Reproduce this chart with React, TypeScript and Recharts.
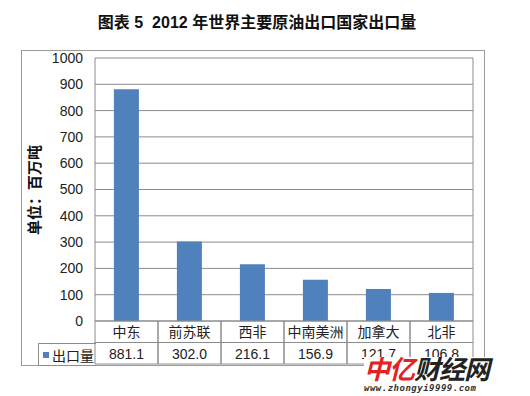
import React from 'react';
import { BarChart, Bar, XAxis, YAxis, CartesianGrid } from 'recharts';

const categories = ['中东', '前苏联', '西非', '中南美洲', '加拿大', '北非'];
const exportValues = [881.1, 302.0, 216.1, 156.9, 121.7, 106.8];
const valueLabels = ['881.1', '302.0', '216.1', '156.9', '121.7', '106.8'];
const yTicks = [0, 100, 200, 300, 400, 500, 600, 700, 800, 900, 1000];

const data = categories.map((name, i) => ({ name, value: exportValues[i], label: valueLabels[i] }));

const FONT = '"Liberation Sans", Arial, "Noto Sans CJK SC", sans-serif';
const BLUE = '#4f81bd';
const LINE = '#8c8c8c';

// each category gets a two-row table cell under the axis
const TableTick = (props: any) => {
  const { x, y, payload, index } = props;
  const w = 63;
  const left = x - w / 2;
  const top = y;
  const row = 21.5;
  return (
    <g>
      <line x1={left + w} y1={top} x2={left + w} y2={top + row * 2} stroke={LINE} />
      <line x1={left} y1={top + row} x2={left + w} y2={top + row} stroke={LINE} />
      <line x1={left} y1={top + row * 2} x2={left + w} y2={top + row * 2} stroke={LINE} />
      <line x1={left} y1={top} x2={left} y2={top + row * 2} stroke={LINE} />
      <text x={x} y={top + 16} textAnchor="middle" fontSize={14} fill="#222" fontFamily={FONT}>
        {payload.value}
      </text>
      <text x={x} y={top + row + 16} textAnchor="middle" fontSize={14} fill="#222" fontFamily={FONT}>
        {data[index]?.label}
      </text>
    </g>
  );
};

export default function App() {
  return (
    <div style={{ position: 'absolute', left: 0, top: 0, width: 530, height: 396, background: '#fff', fontFamily: FONT }}>
      <div style={{ position: 'absolute', left: 0, top: 9, width: 514, textAlign: 'center', fontSize: 16, fontWeight: 'bold', color: '#111' }}>
        图表 5&nbsp; 2012 年世界主要原油出口国家出口量
      </div>
      <div style={{ position: 'absolute', left: 21, top: 50, width: 464, height: 316, border: '1px solid #9a9a9a', boxSizing: 'border-box' }} />
      <BarChart width={530} height={396} data={data} margin={{ top: 58, right: 0, bottom: 31, left: 0 }} barCategoryGap="30%" style={{ position: 'absolute', left: 0, top: 0 }}>
        <CartesianGrid vertical={false} stroke={LINE} />
        <XAxis dataKey="name" height={44} tickLine={false} tickSize={0} tickMargin={0} axisLine={{ stroke: LINE }} interval={0} tick={<TableTick />} />
        <YAxis
          width={95}
          domain={[0, 1000]}
          ticks={yTicks}
          tickLine={false}
          axisLine={{ stroke: LINE }}
          tick={{ fontSize: 14, fill: '#222', fontFamily: FONT }}
          tickMargin={6}
        />
        <YAxis yAxisId="r" orientation="right" width={57} tick={false} tickLine={false} axisLine={{ stroke: LINE }} />
        <Bar dataKey="value" fill={BLUE} isAnimationActive={false} />
      </BarChart>
      <div style={{ position: 'absolute', top: 190, left: 33, transform: 'translate(-50%, -50%) rotate(-90deg)', fontSize: 15, fontWeight: 'bold', color: '#111', whiteSpace: 'nowrap' }}>
        单位：百万吨
      </div>
      <div style={{ position: 'absolute', left: 38, top: 343, width: 58, height: 23, borderLeft: `1px solid ${LINE}`, borderTop: `1px solid ${LINE}`, borderBottom: `1px solid ${LINE}`, boxSizing: 'border-box', fontSize: 14, color: '#222', display: 'flex', alignItems: 'center' }}>
        <span style={{ display: 'inline-block', width: 6, height: 6, background: BLUE, margin: '0 3px 0 4px' }} />
        出口量
      </div>
      <div style={{ position: 'absolute', left: 364, top: 357, width: 140, height: 38, background: '#fff' }}>
        <div style={{ fontSize: 26, fontWeight: 'bold', fontStyle: 'italic', lineHeight: '26px', letterSpacing: -1 }}>
          <span style={{ color: '#e52222' }}>中亿</span>
          <span style={{ color: '#222' }}>财经网</span>
        </div>
        <div style={{ fontSize: 9, fontWeight: 'bold', fontStyle: 'italic', color: '#333', letterSpacing: 0.5, fontFamily: '"DejaVu Sans Mono", monospace' }}>
          www.zhongyi9999.com
        </div>
      </div>
    </div>
  );
}
